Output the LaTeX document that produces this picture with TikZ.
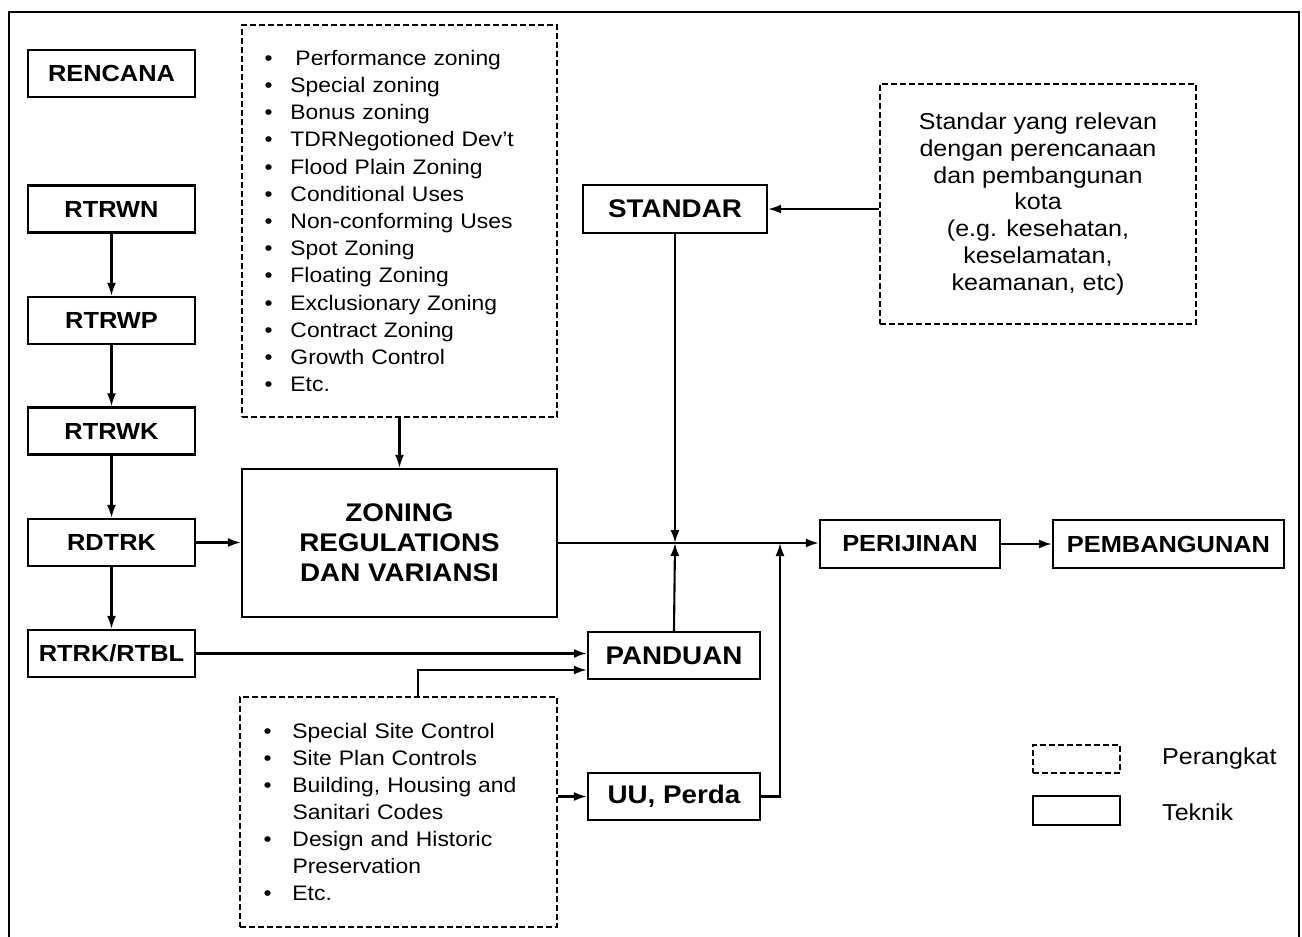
\documentclass[tikz,border=0pt]{standalone}
\usepackage{fontspec}
\setmainfont[FakeStretch=1.09]{Liberation Sans}
\usetikzlibrary{arrows.meta}
\newcommand\itm[2][26pt]{\makebox[#1][l]{\textbullet}#2}
\newcommand\cnt[2][26pt]{\makebox[#1][l]{}#2}
\begin{document}
\begin{tikzpicture}[x=1pt,y=-1pt,
  lw/.style={line width=2.3pt},
  box/.style={draw, lw, inner sep=0pt, font=\fontsize{23.3}{27}\selectfont\bfseries, minimum width=167pt, minimum height=47pt},
  bigbox/.style={box, font=\fontsize{25.5}{30}\selectfont\bfseries},
  dbox/.style={draw, lw, dash pattern=on 6pt off 3pt, inner sep=0pt},
  listtext/.style={align=left, font=\fontsize{21}{27.2}\selectfont},
  arr/.style={line width=2.1pt, -{Latex[length=13pt,width=9pt]}}
]
\path[use as bounding box] (0,0) rectangle (1302,937);
\clip (0,0) rectangle (1302,937);
\fill[white] (0,0) rectangle (1302,937);
\draw[line width=2.6pt] (9,945) -- (9,12) -- (1299,12) -- (1299,945);

% left column
\node[box] (ren) at (111.5,73.5) {RENCANA};
\node[box] (rn) at (111.5,209) {RTRWN};
\node[box] (rp) at (111.5,320.5) {RTRWP};
\node[box] (rk) at (111.5,431) {RTRWK};
\node[box] (rd) at (111.5,542.5) {RDTRK};
\node[box] (rt) at (111.5,653.5) {RTRK/RTBL};

% top list
\node[dbox, minimum width=315pt, minimum height=392pt, listtext, text width=270pt] (tl) at (399.5,221) {%
\itm{\hspace{5pt}Performance zoning}\\
\itm{Special zoning}\\
\itm{Bonus zoning}\\
\itm{TDRNegotioned Dev't}\\
\itm{Flood Plain Zoning}\\
\itm{Conditional Uses}\\
\itm{Non-conforming Uses}\\
\itm{Spot Zoning}\\
\itm{Floating Zoning}\\
\itm{Exclusionary Zoning}\\
\itm{Contract Zoning}\\
\itm{Growth Control}\\
\itm{Etc.}};

\node[bigbox, minimum width=315pt, minimum height=148pt, align=center] (zr) at (399.5,543) {ZONING\\REGULATIONS\\DAN VARIANSI};

% standar
\node[bigbox, minimum width=184pt, minimum height=48pt] (std) at (675,209) {STANDAR};
\node[dbox, minimum width=316pt, minimum height=240pt, align=center, font=\fontsize{23}{26.8}\selectfont] (sd) at (1038,204) {Standar yang relevan\\dengan perencanaan\\dan pembangunan\\kota\\(e.g. kesehatan,\\keselamatan,\\keamanan, etc)};

\node[bigbox, minimum width=172pt, minimum height=47pt] (pan) at (674,655.5) {PANDUAN};
\node[bigbox, minimum width=172pt, minimum height=47pt] (uu) at (674,796.5) {UU, Perda};

% bottom list
\node[dbox, minimum width=317pt, minimum height=230pt, listtext, font=\fontsize{21}{27}\selectfont, text width=270pt] (bl) at (398.5,812) {%
\itm[29pt]{Special Site Control}\\
\itm[29pt]{Site Plan Controls}\\
\itm[29pt]{Building, Housing and}\\
\cnt[29pt]{Sanitari Codes}\\
\itm[29pt]{Design and Historic}\\
\cnt[29pt]{Preservation}\\
\itm[29pt]{Etc.}};

\node[box, minimum width=180pt, minimum height=48pt] (per) at (910,544) {PERIJINAN};
\node[box, minimum width=231pt, minimum height=48pt] (pem) at (1168.5,544) {PEMBANGUNAN};

% legend
\node[dbox, minimum width=87pt, minimum height=28pt] (lg1) at (1076.5,759) {};
\node[draw, lw, inner sep=0pt, minimum width=87pt, minimum height=29pt] (lg2) at (1076.5,810.5) {};
\node[anchor=west, inner sep=0pt, font=\fontsize{23}{27}\selectfont] (lt1) at (1162,759) {Perangkat};
\node[anchor=west, inner sep=0pt, font=\fontsize{23}{27}\selectfont] (lt2) at (1162,812) {Teknik};

% connectors
\draw[arr] (rn) -- (rp);
\draw[arr] (rp) -- (rk);
\draw[arr] (rk) -- (rd);
\draw[arr] (rd) -- (rt);
\draw[arr] (rd.east) -- (rd.east -| zr.west);
\draw[arr] (tl.south) -- (zr.north);
\draw[arr] (std.east -| sd.west) -- (std.east);
\coordinate (j1) at (std.south |- zr.east);
\coordinate (j2) at (780,543);
\draw[arr] (zr.east) -- (per.west |- zr.east);
\draw[arr] (std.south) -- (j1);
\draw[arr] (pan.north) -- (j1);
\draw[arr] (per) -- (pem);
\draw[arr] (rt.east) -- (rt.east -| pan.west);
\coordinate (b1) at (418,697);
\draw[arr] (b1) -- (418,670) -- (pan.west |- 0,670);
\draw[arr] (bl.east |- uu.west) -- (uu.west);
\draw[arr] (uu.east) -- (uu.east -| j2) -- (j2);
\end{tikzpicture}
\end{document}
